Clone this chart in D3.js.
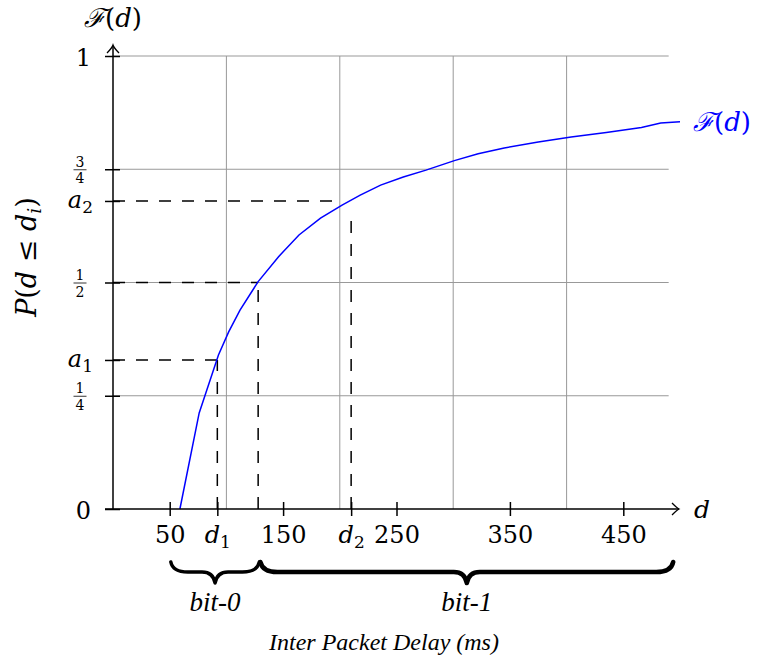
<!DOCTYPE html>
<html>
<head>
<meta charset="utf-8">
<script src="https://cdn.jsdelivr.net/npm/d3@7"></script>
<style>
  body { margin: 0; background: #fff; }
  text { font-family: "DejaVu Serif", serif; fill: #000; }
  text.times { font-family: "Liberation Serif", "Times New Roman", serif; }
</style>
</head>
<body>
<script>
// curve points (delay d in ms, F(d))
var curveD = [59, 76, 93, 102, 112, 128, 146, 164, 183, 202, 218, 236, 256, 276, 301, 322, 345, 375, 404, 435, 466, 483, 500];
var curveF = [0, 0.212, 0.34, 0.391, 0.439, 0.502, 0.557, 0.605, 0.642, 0.671, 0.693, 0.715, 0.733, 0.748, 0.769, 0.784, 0.797, 0.81, 0.821, 0.831, 0.842, 0.852, 0.855];

var xTicks = [50, 92, 150, 210, 250, 350, 450];
var xTickLabels = ["50", "d1", "150", "d2", "250", "350", "450"];
var xGrid = [100, 200, 300, 400];

var yTicks = [0, 0.25, 0.329, 0.5, 0.68, 0.75, 1];
var yTickLabels = ["0", "1/4", "a1", "1/2", "a2", "3/4", "1"];
var yGrid = [0.25, 0.5, 0.75, 1];

// dashed guides: [d, level]
var guideH = [[92, 0.329], [128, 0.5], [201, 0.68]];
var guideV = [[92, 0.329], [128, 0.5], [210, 0.66]];

var braceNames = ["bit-0", "bit-1"];
var braceFrom = [51, 130];
var braceTo = [129, 494];

var width = 760, height = 662;

var svg = d3.select("body").append("svg")
    .attr("width", width)
    .attr("height", height);

var x = d3.scaleLinear().domain([0, 500]).range([113, 680]);
var y = d3.scaleLinear().domain([0, 1]).range([509, 56]);

// grid
svg.append("g").selectAll("line")
    .data(xGrid).enter().append("line")
    .attr("x1", function(d) { return x(d); })
    .attr("x2", function(d) { return x(d); })
    .attr("y1", y(0)).attr("y2", y(1))
    .attr("stroke", "#999").attr("stroke-width", 1);

svg.append("g").selectAll("line")
    .data(yGrid).enter().append("line")
    .attr("x1", x(0)).attr("x2", x(490))
    .attr("y1", function(d) { return y(d); })
    .attr("y2", function(d) { return y(d); })
    .attr("stroke", "#999").attr("stroke-width", 1);

// dashed guides
svg.append("g").selectAll("line")
    .data(guideH).enter().append("line")
    .attr("x1", x(0)).attr("x2", function(d) { return x(d[0]); })
    .attr("y1", function(d) { return y(d[1]); })
    .attr("y2", function(d) { return y(d[1]); })
    .attr("stroke", "#000").attr("stroke-width", 1.5)
    .attr("stroke-dasharray", "12,11");

svg.append("g").selectAll("line")
    .data(guideV).enter().append("line")
    .attr("x1", function(d) { return x(d[0]); })
    .attr("x2", function(d) { return x(d[0]); })
    .attr("y1", y(0))
    .attr("y2", function(d) { return y(d[1]); })
    .attr("stroke", "#000").attr("stroke-width", 1.5)
    .attr("stroke-dasharray", "12,11");

// curve
var pts = curveD.map(function(d, i) { return [d, curveF[i]]; });
var line = d3.line()
    .x(function(d) { return x(d[0]); })
    .y(function(d) { return y(d[1]); });

svg.append("path")
    .datum(pts)
    .attr("d", line)
    .attr("fill", "none")
    .attr("stroke", "#0000ff")
    .attr("stroke-width", 1.5);

svg.append("text")
    .attr("x", x(500) + 13).attr("y", 131)
    .style("font-size", "26px").style("fill", "#0000ff")
    .html('<tspan font-style="italic">ℱ</tspan>(<tspan font-style="italic">d</tspan>)');

// x axis
var xAxis = svg.append("g")
    .attr("transform", "translate(0," + y(0) + ")")
    .call(d3.axisBottom(x).tickValues(xTicks).tickSizeInner(7).tickSizeOuter(0)
        .tickPadding(24)
        .tickFormat(function(d, i) { return xTickLabels[i]; }));
xAxis.select(".domain").remove();
xAxis.attr("font-family", null);
xAxis.selectAll(".tick line").attr("y1", -7).attr("stroke", "#000").attr("stroke-width", 1.5);
xAxis.selectAll(".tick text")
    .style("font-size", "24px")
    .attr("dy", "0.12em")
    .each(function(d, i) {
        var lab = xTickLabels[i];
        if (lab.charAt(0) == "d") {
            var t = d3.select(this).text("");
            t.append("tspan").style("font-style", "italic").text("d");
            t.append("tspan").attr("dy", 5).style("font-size", "17px").text(lab.slice(1));
        }
    });

svg.append("line")
    .attr("x1", 105).attr("x2", x(500) - 1)
    .attr("y1", y(0)).attr("y2", y(0))
    .attr("stroke", "#000").attr("stroke-width", 1.5);
svg.append("path")
    .attr("d", "M" + (x(500) - 8) + "," + (y(0) - 6) + " Q" + (x(500) - 3) + "," + (y(0) - 1) + " " + (x(500) - 1) + "," + y(0)
        + " Q" + (x(500) - 3) + "," + (y(0) + 1) + " " + (x(500) - 8) + "," + (y(0) + 6))
    .attr("fill", "none").attr("stroke", "#000").attr("stroke-width", 1.3);

svg.append("text")
    .attr("x", 694).attr("y", 518)
    .style("font-size", "25px").style("font-style", "italic")
    .text("d");

// y axis
var yAxis = svg.append("g")
    .attr("transform", "translate(" + x(0) + ",0)")
    .call(d3.axisLeft(y).tickValues(yTicks).tickSizeInner(8).tickSizeOuter(0)
        .tickFormat(function(d, i) { return yTickLabels[i]; }));
yAxis.select(".domain").remove();
yAxis.attr("font-family", null);
yAxis.selectAll(".tick line").attr("x2", -8).attr("x1", 7).attr("stroke", "#000").attr("stroke-width", 1.5);
yAxis.selectAll(".tick text")
    .each(function(d, i) {
        var lab = yTickLabels[i];
        var t = d3.select(this).text("").attr("dy", null);
        if (lab.indexOf("/") > 0) {
            var parts = lab.split("/");
            var g = d3.select(this.parentNode);
            t.remove();
            g.append("text").attr("x", -33).attr("y", -3)
                .attr("text-anchor", "middle").style("font-size", "14px").text(parts[0]);
            g.append("line").attr("x1", -39.5).attr("x2", -26.5).attr("y1", 0).attr("y2", 0)
                .attr("stroke", "#000").attr("stroke-width", 0.8);
            g.append("text").attr("x", -33).attr("y", 13.5)
                .attr("text-anchor", "middle").style("font-size", "14px").text(parts[1]);
        } else if (lab.charAt(0) == "a") {
            t.attr("x", -20).attr("y", 7).style("font-size", "24px");
            t.append("tspan").style("font-style", "italic").text("a");
            t.append("tspan").attr("dy", 5).style("font-size", "17px").text(lab.slice(1));
        } else {
            t.attr("x", -22).attr("y", 9).style("font-size", "24px").text(lab);
        }
    });

svg.append("line")
    .attr("x1", x(0)).attr("x2", x(0))
    .attr("y1", y(0)).attr("y2", y(1) - 10)
    .attr("stroke", "#000").attr("stroke-width", 1.5);
svg.append("path")
    .attr("d", "M" + (x(0) - 6) + "," + (y(1) - 3) + " Q" + (x(0) - 1) + "," + (y(1) - 8) + " " + x(0) + "," + (y(1) - 11)
        + " Q" + (x(0) + 1) + "," + (y(1) - 8) + " " + (x(0) + 6) + "," + (y(1) - 3))
    .attr("fill", "none").attr("stroke", "#000").attr("stroke-width", 1.3);

svg.append("text")
    .attr("x", x(0)).attr("y", 27)
    .attr("text-anchor", "middle")
    .style("font-size", "26px")
    .html('<tspan font-style="italic">ℱ</tspan>(<tspan font-style="italic">d</tspan>)');

svg.append("text")
    .attr("transform", "translate(36,257) rotate(-90)")
    .attr("text-anchor", "middle")
    .style("font-size", "27px")
    .html('<tspan font-style="italic">P</tspan>(<tspan font-style="italic">d</tspan> ≤ <tspan font-style="italic">d</tspan><tspan dy="5" font-size="19" font-style="italic">i</tspan><tspan dy="-5">)</tspan>');

// braces under the axis
function bracePath(x0, x1, y0) {
    var mid = (x0 + x1) / 2, h = 10, amp = 21, q = 17;
    return "M" + x0 + "," + y0
        + " Q" + (x0 + 2) + "," + (y0 + h) + " " + (x0 + q) + "," + (y0 + h)
        + " L" + (mid - q + 4) + "," + (y0 + h)
        + " Q" + (mid - 2) + "," + (y0 + h) + " " + mid + "," + (y0 + amp)
        + " Q" + (mid + 2) + "," + (y0 + h) + " " + (mid + q - 4) + "," + (y0 + h)
        + " L" + (x1 - q) + "," + (y0 + h)
        + " Q" + (x1 - 2) + "," + (y0 + h) + " " + x1 + "," + y0;
}

var braces = svg.append("g").selectAll("g")
    .data(braceNames).enter().append("g");

braces.append("path")
    .attr("d", function(d, i) { return bracePath(x(braceFrom[i]), x(braceTo[i]), 562); })
    .attr("fill", "none")
    .attr("stroke", "#000")
    .attr("stroke-width", function(d, i) { return i == 0 ? 3.5 : 4.5; })
    .attr("stroke-linecap", "round")
    .attr("stroke-linejoin", "round");

braces.append("text")
    .attr("class", "times")
    .attr("x", function(d, i) { return x((braceFrom[i] + braceTo[i]) / 2); })
    .attr("y", 611)
    .attr("text-anchor", "middle")
    .style("font-size", "27px")
    .style("font-style", "italic")
    .text(function(d) { return d; });

svg.append("text")
    .attr("class", "times")
    .attr("x", 384).attr("y", 650)
    .attr("text-anchor", "middle")
    .style("font-size", "24px")
    .style("font-style", "italic")
    .text("Inter Packet Delay (ms)");
</script>
</body>
</html>
